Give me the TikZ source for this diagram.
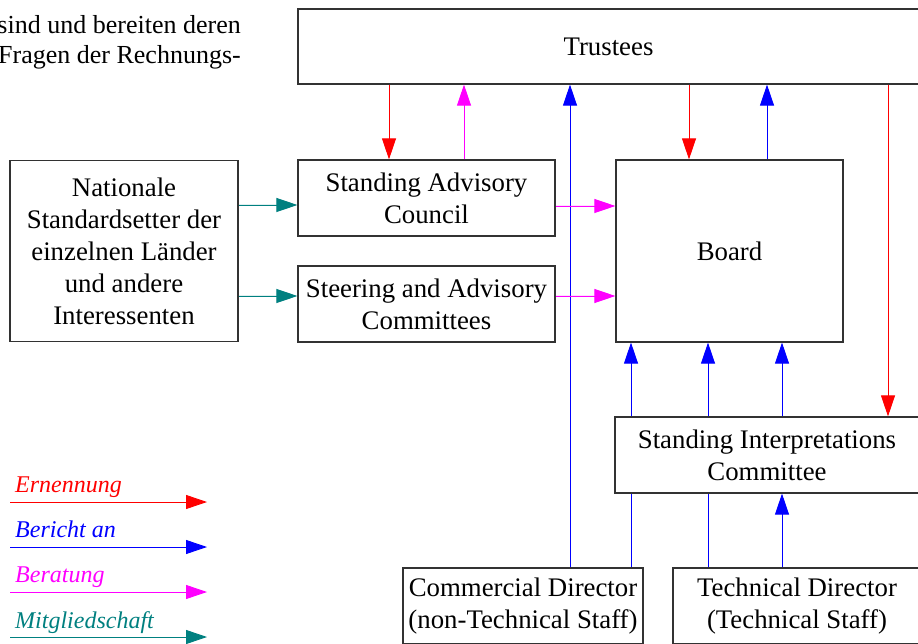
\documentclass[tikz,border=0pt]{standalone}
\usepackage{fontspec}
\setmainfont{Liberation Serif}
\usetikzlibrary{arrows.meta}
\definecolor{cred}{RGB}{255,0,0}
\definecolor{cblue}{RGB}{0,0,255}
\definecolor{cmag}{RGB}{255,0,255}
\definecolor{cteal}{RGB}{0,128,128}
\definecolor{cbox}{RGB}{50,50,50}
\tikzset{
  box/.style={draw=cbox, line width=1.2pt, fill=white, inner sep=0pt, align=center,
    font=\fontsize{26.8}{32}\selectfont},
  conn/.style={line width=0.9pt, -{Triangle[length=21pt,width=14pt]}},
  ern/.style={conn, draw=cred, fill=cred},
  ber/.style={conn, draw=cblue, fill=cblue},
  rat/.style={conn, draw=cmag, fill=cmag},
  mit/.style={conn, draw=cteal, fill=cteal},
  plainblue/.style={line width=0.9pt, draw=cblue},
  legtext/.style={anchor=base west, inner sep=0pt, font=\fontsize{24}{28}\selectfont\itshape},
  toptext/.style={anchor=base east, inner sep=0pt, font=\fontsize{26}{32}\selectfont}
}
\begin{document}
\begin{tikzpicture}[x=1pt,y=-1pt]
\useasboundingbox (0,0) rectangle (918,644);
\clip (0,0) rectangle (918,644);
\fill[white] (0,0) rectangle (918,644);

% top-left cut text
\node[toptext] (t1) at (241,34) {sind und bereiten deren};
\node[toptext] (t2) at (241,64) {Fragen der Rechnungs-};

% boxes
\node[box, minimum width=621pt, minimum height=75pt] (trustees) at (608.5,46.5) {Trustees};
\node[box, minimum width=228pt, minimum height=181pt] (nat) at (124,251)
  {Nationale\\Standardsetter der\\einzelnen L\"ander\\und andere\\Interessenten};
\node[box, minimum width=257pt, minimum height=76pt] (sac) at (426.5,198) {Standing Advisory\\Council};
\node[box, minimum width=257pt, minimum height=76pt] (steer) at (426.5,304) {Steering and Advisory\\Committees};
\node[box, minimum width=227pt, minimum height=182pt] (board) at (729.5,251) {Board};
\node[box, minimum width=304pt, minimum height=76pt] (sic) at (767,455) {Standing Interpretations\\Committee};
\node[box, minimum width=240pt, minimum height=76pt] (cd) at (523,606) {Commercial Director\\(non-Technical Staff)};
\node[box, minimum width=248pt, minimum height=76pt] (td) at (797,606) {Technical Director\\(Technical Staff)};

% connectors
\draw[ern] (trustees.south -| 389,0) -- (sac.north -| 389,0);
\draw[rat] (sac.north -| 464,0) -- (trustees.south -| 464,0);
\draw[ber] (cd.north -| 570,0) -- (trustees.south -| 570,0);
\draw[ern] (trustees.south -| 689,0) -- (board.north -| 689,0);
\draw[ber] (board.north -| 767,0) -- (trustees.south -| 767,0);
\draw[ern] (trustees.south -| 888,0) -- (sic.north -| 888,0);

\draw[rat] (sac.east |- 0,206) -- (board.west |- 0,206);
\draw[rat] (steer.east |- 0,296) -- (board.west |- 0,296);
\draw[mit] (nat.east |- 0,205) -- (sac.west |- 0,205);
\draw[mit] (nat.east |- 0,296) -- (steer.west |- 0,296);

\draw[ber] (sic.north -| 631,0) -- (board.south -| 631,0);
\draw[ber] (sic.north -| 708,0) -- (board.south -| 708,0);
\draw[ber] (sic.north -| 782,0) -- (board.south -| 782,0);
\draw[plainblue] (cd.north -| 631,0) -- (sic.south -| 631,0);
\draw[plainblue] (td.north -| 708,0) -- (sic.south -| 708,0);
\draw[ber] (td.north -| 782,0) -- (sic.south -| 782,0);

% legend
\node[legtext, text=cred] (lt1) at (15,492) {Ernennung};
\node[legtext, text=cblue] (lt2) at (15,537) {Bericht an};
\node[legtext, text=cmag] (lt3) at (15,582) {Beratung};
\node[legtext, text=cteal] (lt4) at (15,628) {Mitgliedschaft};
\coordinate (l1a) at (10,502); \coordinate (l1b) at (207,502);
\coordinate (l2a) at (10,547); \coordinate (l2b) at (207,547);
\coordinate (l3a) at (10,592); \coordinate (l3b) at (207,592);
\coordinate (l4a) at (10,637); \coordinate (l4b) at (207,637);
\draw[ern] (l1a) -- (l1b);
\draw[ber] (l2a) -- (l2b);
\draw[rat] (l3a) -- (l3b);
\draw[mit] (l4a) -- (l4b);
\end{tikzpicture}
\end{document}
